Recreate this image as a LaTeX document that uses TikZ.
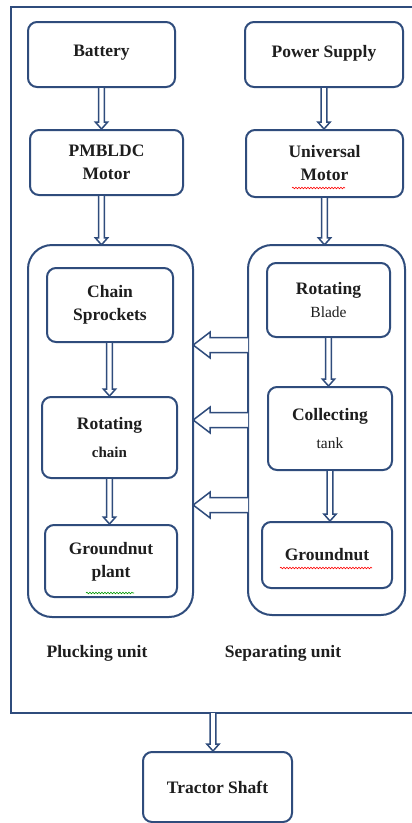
\documentclass[tikz,border=0pt]{standalone}
\usepackage{fontspec}
\setmainfont{Liberation Serif}
\usetikzlibrary{calc,decorations.pathmorphing}
\definecolor{lc}{HTML}{2F4C7C}
\definecolor{tc}{HTML}{1E1E1E}
\tikzset{
  box/.style={draw=lc, line width=2pt, rounded corners=9pt, fill=white, align=center,
    text=tc, font=\fontsize{17.5}{23}\selectfont\bfseries, inner sep=0pt},
  container/.style={draw=lc, line width=2pt, rounded corners=24pt},
  arrowline/.style={draw=lc, line width=1.5pt, fill=white, line join=miter},
  caption/.style={text=tc, font=\fontsize{17.5}{21}\selectfont\bfseries},
  squig/.style={line width=0.6pt, decorate, decoration={snake, amplitude=0.8pt, segment length=3pt}}
}
\newcommand\varr[2]{\draw[arrowline] let \p1=(#1), \p2=(#2) in
  (\x1-2.8pt,\y1) -- (\x1-2.8pt,\y2+7pt) -- (\x1-6.2pt,\y2+7pt) -- (\x1,\y2)
  -- (\x1+6.2pt,\y2+7pt) -- (\x1+2.8pt,\y2+7pt) -- (\x1+2.8pt,\y1);}
\newcommand\harr[2]{\draw[arrowline] let \p1=(#1), \p2=(#2) in
  (\x1,\y1+7.5pt) -- (\x2+17pt,\y1+7.5pt) -- (\x2+17pt,\y1+13pt) -- (\x2,\y1)
  -- (\x2+17pt,\y1-13pt) -- (\x2+17pt,\y1-7.5pt) -- (\x1,\y1-7.5pt);}
\begin{document}
\begin{tikzpicture}[x=1pt,y=-1pt]
\useasboundingbox[fill=white] (0,0) rectangle (412,823);
% outer frame (right edge lies beyond the picture)
\draw[lc, line width=2.2pt] (440,7) -- (11,7) -- (11,713) -- (440,713);
% containers
\draw[container] (28,245) rectangle (193,617);
\node[minimum width=165pt, minimum height=372pt, inner sep=0pt] (pluck) at (110.5,431) {};
\draw[container] (248,245) rectangle (405,615);
\node[minimum width=157pt, minimum height=370pt, inner sep=0pt] (sep) at (326.5,430) {};
% top boxes
\node[box, minimum width=147pt, minimum height=65pt] (battery) at (101.5,54.5) {\raisebox{7pt}{Battery}};
\node[box, minimum width=158pt, minimum height=65pt] (power) at (324,54.5) {\raisebox{7pt}{Power Supply}};
\node[box, minimum width=153pt, minimum height=65pt] (pmbldc) at (106.5,162.5) {PMBLDC\\Motor};
\node[box, minimum width=157pt, minimum height=67pt] (universal) at (324.5,163.5) {Universal\\Motor};
% plucking unit
\node[box, minimum width=126pt, minimum height=74pt] (cs) at (110,305) {Chain\\Sprockets};
\node[box, minimum width=135pt, minimum height=81pt] (rc) at (109.5,437.5) {Rotating\\[5pt]{\fontsize{15}{17}\selectfont chain}};
\node[box, minimum width=132pt, minimum height=72pt] (gp) at (111,561) {\raisebox{-5pt}{\begin{tabular}{@{}c@{}}Groundnut\\plant\end{tabular}}};
% separating unit
\node[box, minimum width=123pt, minimum height=74pt] (rb) at (328.5,300) {Rotating\\{\fontsize{15.5}{17}\selectfont\mdseries Blade}};
\node[box, minimum width=124pt, minimum height=83pt] (ct) at (330,428.5) {Collecting\\[5pt]{\fontsize{15.5}{17}\selectfont\mdseries tank}};
\node[box, minimum width=130pt, minimum height=66pt] (gn) at (327,555) {Groundnut};
% tractor
\node[box, minimum width=149pt, minimum height=70pt] (tractor) at (217.5,787) {Tractor Shaft};
% captions
\node[caption] (plab) at (97,653) {Plucking unit};
\node[caption] (slab) at (283,653) {Separating unit};
% spell-check squiggles
\draw[red, squig] (292,188) -- (345,188);
\draw[red, squig] (280,568) -- (372,568);
\draw[green!60!black, squig] (86,593) -- (134,593);
% vertical arrows
\varr{battery.south}{pmbldc.north}
\varr{power.south}{universal.north}
\varr{pmbldc.south -| battery.south}{pluck.north}
\varr{universal.south}{sep.north}
\varr{rc.north |- cs.south}{rc.north}
\varr{rb.south}{ct.north}
\varr{rc.south}{gp.north}
\varr{ct.south}{gn.north}
\coordinate (fb) at (213,713);
\varr{fb}{tractor.north}
% horizontal arrows
\coordinate (h1) at (248,345);
\coordinate (h2) at (248,420);
\coordinate (h3) at (248,505);
\harr{h1}{pluck.east}
\harr{h2}{pluck.east}
\harr{h3}{pluck.east}
\end{tikzpicture}
\end{document}
